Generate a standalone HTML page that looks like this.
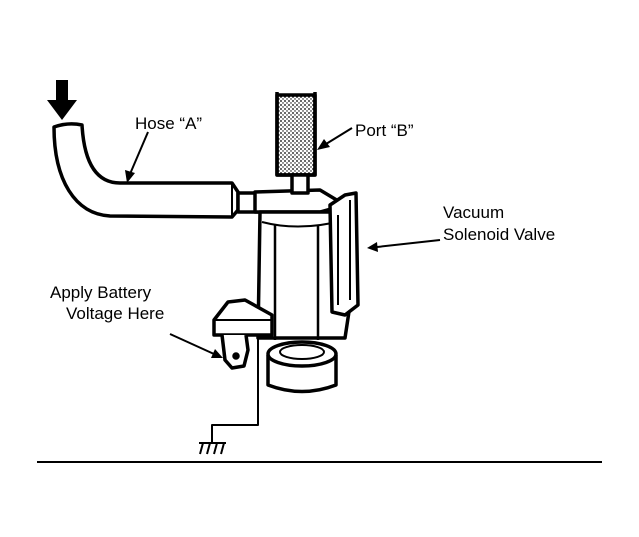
<!DOCTYPE html>
<html><head><style>
html,body{margin:0;padding:0;background:#fff;}
svg{display:block;}
text{font-family:"Liberation Sans",sans-serif;font-size:17px;fill:#000;}
</style></head><body>
<svg width="639" height="537" viewBox="0 0 639 537" xmlns="http://www.w3.org/2000/svg">
<defs><pattern id="st" width="4" height="4" patternUnits="userSpaceOnUse"><circle cx="1" cy="1" r="0.9" fill="#000"/><circle cx="3" cy="3" r="0.7" fill="#000"/></pattern></defs>
<g fill="none" stroke="#000" stroke-width="3.5" stroke-linejoin="round">
<polygon points="56,80 68,80 68,100 77,100 62,120 47,100 56,100" fill="#000" stroke="none"/>
<path d="M54,127 Q68,122 82,125 C84,160 95,183 120,183 L232,183 L238,192 L238,210 L232,217 L110,216 C75,214 54,180 54,127 Z" fill="#fff"/>
<path d="M232,183 L232,217" stroke-width="2"/>
<rect x="238" y="193" width="22" height="19" fill="#fff"/>
<path d="M255,192 L320,190 L345,205 L320,212 L255,212 Z" fill="#fff"/>
<rect x="277" y="95" width="38" height="80" fill="url(#st)"/>
<path d="M277,92 L277,175 L315,175 L315,92"/>
<rect x="292" y="175" width="16" height="18" fill="#fff"/>
<path d="M260,212 L258,338 L345,338 L350,305 L352,212 Z" fill="#fff"/>
<path d="M262,222 Q300,232 345,220" stroke-width="2"/>
<path d="M275,225 L275,340 M318,225 L318,340" stroke-width="2.5"/>
<path d="M330,205 L345,195 L356,193 L358,305 L345,315 L332,312 Z" fill="#fff"/>
<path d="M338,215 L338,305 M350,200 L350,300" stroke-width="2"/>
<path d="M214,320 L228,302 L245,300 L272,315 L272,335 L214,335 Z" fill="#fff"/>
<path d="M214,320 L272,320" stroke-width="2"/>
<path d="M222,335 L225,360 L232,368 L244,366 L248,350 L246,335" fill="#fff"/>
<circle cx="236" cy="356" r="2" fill="#000"/>
<path d="M268,355 L268,385 Q302,398 336,385 L336,355" fill="#fff"/>
<ellipse cx="302" cy="354" rx="34" ry="12" fill="#fff"/>
<ellipse cx="302" cy="352" rx="22" ry="7" stroke-width="2"/>
<path d="M258,338 L258,425 L212,425 L212,442" stroke-width="2"/>
<path d="M199,443 L226,443 M203,443 L200,454 M210,443 L207,454 M217,443 L214,454 M224,443 L221,454" stroke-width="2"/>
<line x1="37" y1="462" x2="602" y2="462" stroke-width="2"/>
<line x1="148" y1="132" x2="130" y2="174" stroke-width="2"/>
<polygon points="127,183 125,170 135,173" fill="#000" stroke="none"/>
<line x1="352" y1="128" x2="326" y2="144" stroke-width="2"/>
<polygon points="317,150 324,139 330,147" fill="#000" stroke="none"/>
<line x1="440" y1="240" x2="377" y2="247" stroke-width="2"/>
<polygon points="367,248 377,242 378,252" fill="#000" stroke="none"/>
<line x1="170" y1="334" x2="214" y2="354" stroke-width="2"/>
<polygon points="223,358 211,358 215,349" fill="#000" stroke="none"/>
</g>
<text x="135" y="129">Hose “A”</text>
<text x="355" y="136">Port “B”</text>
<text x="443" y="218">Vacuum</text>
<text x="443" y="240">Solenoid Valve</text>
<text x="50" y="298">Apply Battery</text>
<text x="66" y="319">Voltage Here</text>
</svg>
</body></html>
